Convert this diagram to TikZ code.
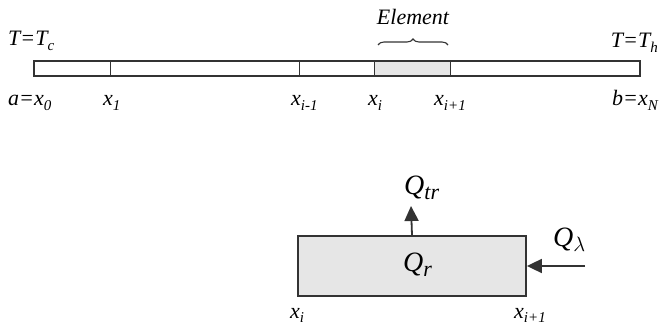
\documentclass[tikz,border=0pt]{standalone}
\usepackage{fontspec}
\setmainfont{Liberation Serif}
\usetikzlibrary{arrows.meta,decorations.pathreplacing}
\definecolor{lineg}{HTML}{333333}
\definecolor{cellfill}{HTML}{E6E6E6}
\newcommand\smlab[2]{{\fontsize{22}{22}\selectfont\itshape #1\raisebox{-0.45ex}{\fontsize{15}{15}\selectfont #2}}}
\newcommand\biglab[2]{{\fontsize{28}{28}\selectfont\itshape #1\raisebox{-0.35ex}{\fontsize{22}{22}\selectfont #2}}}
\begin{document}
\begin{tikzpicture}[x=1pt,y=-1pt,
  barline/.style={draw=lineg,line width=1.8pt},
  cellline/.style={draw=lineg,line width=0.9pt},
  lab/.style={inner sep=0pt,anchor=base},
  qarrow/.style={draw=lineg,line width=1.8pt,-{Triangle[length=15pt,width=14pt]}}]
\useasboundingbox (0,0) rectangle (659,331);
% top bar
\fill[cellfill] (374,61) rectangle (450,76);
\draw[cellline] (110,61) -- (110,76);
\draw[cellline] (299,61) -- (299,76);
\draw[cellline] (374,61) -- (374,76);
\draw[cellline] (450,61) -- (450,76);
\draw[barline] (34,61) rectangle (640,76);
% top labels
\node[lab,anchor=base west] (tc) at (8,46) {\smlab{T=T}{c}};
\node[lab,anchor=base east] (th) at (658,48) {\smlab{T=T}{h}};
\node[lab,anchor=base west] (a) at (8,106) {\smlab{a=x}{0}};
\node[lab,anchor=base west] (x1) at (103,106) {\smlab{x}{1}};
\node[lab,anchor=base west] (xim) at (291,106) {\smlab{x}{i-1}};
\node[lab,anchor=base west] (xi) at (368,106) {\smlab{x}{i}};
\node[lab,anchor=base west] (xip) at (434,106) {\smlab{x}{i+1}};
\node[lab,anchor=base east] (b) at (658,106) {\smlab{b=x}{N}};
\node[lab] (el) at (413,25) {\fontsize{22}{22}\selectfont\itshape Element};
\draw[lineg,line width=1.1pt,decorate,decoration={brace,amplitude=6pt}] (378,45) -- (448,45);
% element box
\node[draw=lineg,line width=1.8pt,fill=cellfill,minimum width=228pt,minimum height=60pt,inner sep=0pt] (box) at (412,266) {};
\node[lab,anchor=base west] (qr) at (403,272) {\biglab{Q}{r}};
\coordinate (qtrend) at (411,206);
\draw[qarrow] (box.north) -- (qtrend);
\node[lab,anchor=base west] (qtr) at (404,195) {\biglab{Q}{tr}};
\coordinate (qlstart) at (585,266);
\draw[qarrow] (qlstart) -- (box.east);
\node[lab,anchor=base west] (ql) at (553,247) {\biglab{Q}{$\lambda$}};
\node[lab,anchor=base west] (bxi) at (290,318) {\smlab{x}{i}};
\node[lab,anchor=base west] (bxip) at (514,318) {\smlab{x}{i+1}};
\end{tikzpicture}
\end{document}
